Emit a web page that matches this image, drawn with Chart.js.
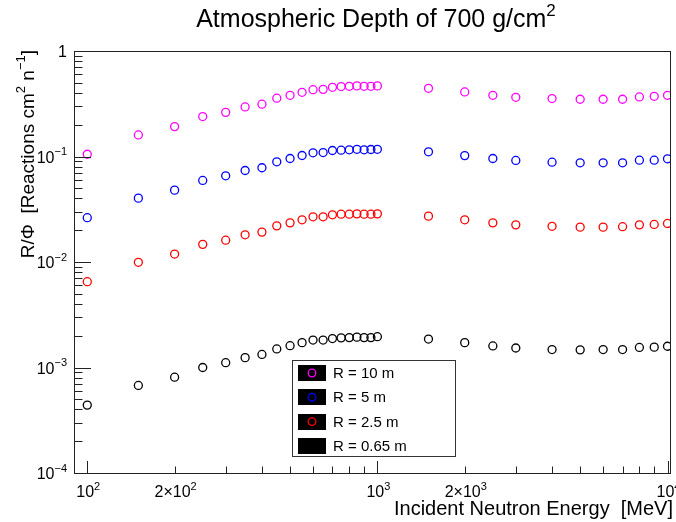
<!DOCTYPE html>
<html>
<head>
<meta charset="utf-8">
<script src="https://cdn.jsdelivr.net/npm/chart.js@4.4.1/dist/chart.umd.min.js"></script>
<style>
	html, body { margin: 0; padding: 0; background: #fff; }
	#wrap { width: 676px; height: 522px; }
</style>
</head>
<body>
<div id="wrap"><canvas id="canvas-chart-scatter-depth"></canvas></div>
<script>
var energia=[100,150,200,250,300,350,400,450,500,550,600,650,700,750,800,850,900,950,1000,1500,2000,2500,3000,4000,5000,6000,7000,8000,9000,10000];

var r10=[0.105,0.160,0.192,0.239,0.262,0.295,0.313,0.357,0.380,0.406,0.430,0.433,0.453,0.460,0.463,0.467,0.463,0.463,0.467,0.443,0.409,0.380,0.364,0.354,0.349,0.349,0.349,0.367,0.372,0.380];
var r5=[0.0263,0.0403,0.0480,0.0593,0.0656,0.0737,0.0782,0.0891,0.0957,0.1022,0.1084,0.109,0.114,0.1147,0.1157,0.117,0.1157,0.1165,0.117,0.1108,0.102,0.0957,0.0917,0.0883,0.0872,0.0872,0.0872,0.0923,0.0923,0.0951];
var r25=[0.00651,0.00993,0.0119,0.0147,0.0161,0.0181,0.0192,0.0220,0.0235,0.0251,0.0268,0.0268,0.0280,0.0284,0.0284,0.0286,0.0284,0.0284,0.0286,0.0272,0.0251,0.0235,0.0225,0.0218,0.0214,0.0214,0.0216,0.0225,0.0227,0.0232];
var r065=[0.000440,0.000676,0.000809,0.00100,0.00111,0.00124,0.00133,0.00150,0.00161,0.00172,0.00182,0.00182,0.00188,0.00191,0.00192,0.00194,0.00192,0.00192,0.00196,0.00186,0.00172,0.00160,0.00153,0.00148,0.00147,0.00148,0.00148,0.00155,0.00156,0.00159];

var etiquetas=['R = 10 m','R = 5 m','R = 2.5 m','R = 0.65 m'];
var colores=['#ff00ff','#0000ff','#ff0000','#000000'];

// ticks: base, exponent, multiplier text
var xTicks=[100,200,300,400,500,600,700,800,900,1000,2000,3000,4000,5000,6000,7000,8000,9000,10000];
var xLabelValues=[100,200,1000,2000,10000];
var xLabelPre=['','2\u00d7','','2\u00d7',''];
var xLabelExp=['2','2','3','3','4'];
var yTicks=[];
[-4,-3,-2,-1].forEach(function(e){ for(var m=1;m<10;m++) yTicks.push(m*Math.pow(10,e)); });
yTicks.push(1);
var yLabelValues=[1,0.1,0.01,0.001,0.0001];
var yLabelExp=[null,'\u22121','\u22122','\u22123','\u22124'];

var fuente="'Liberation Sans', Arial, Helvetica, sans-serif";

function pares(serie){
	return energia.map(function(e,i){ return {x:e, y:serie[i]}; });
}

// draws rich text segments [text, isSup]; returns width
function textoRico(ctx, segs, x, y, size, align){
	var supSize=Math.round(size*0.68);
	var w=0;
	segs.forEach(function(s){
		ctx.font=(s[1]?supSize:size)+'px '+fuente;
		w+=ctx.measureText(s[0]).width;
	});
	var cx=x;
	if(align==='center') cx=x-w/2;
	if(align==='right') cx=x-w;
	ctx.textAlign='left';
	ctx.textBaseline='alphabetic';
	segs.forEach(function(s){
		ctx.font=(s[1]?supSize:size)+'px '+fuente;
		ctx.fillText(s[0], cx, s[1]? y-size*0.45 : y);
		cx+=ctx.measureText(s[0]).width;
	});
	return w;
}

var marcoPlugin={
	id:'marcoRoot',
	afterDatasetsDraw:function(chart){
		var ctx=chart.ctx, a=chart.chartArea;
		var sx=chart.scales.x, sy=chart.scales.y;
		ctx.save();
		ctx.strokeStyle='#222';
		ctx.lineWidth=1;
		ctx.strokeRect(Math.round(a.left)+0.5, Math.round(a.top)+0.5, Math.round(a.right-a.left), Math.round(a.bottom-a.top));
		ctx.beginPath();
		sx.ticks.forEach(function(t){
			var px=Math.round(sx.getPixelForValue(t.value))+0.5;
			var mayor=Math.abs(Math.log10(t.value)%1)<1e-9;
			ctx.moveTo(px, a.bottom);
			ctx.lineTo(px, a.bottom-(mayor?12:6.5));
		});
		sy.ticks.forEach(function(t){
			var py=Math.round(sy.getPixelForValue(t.value))+0.5;
			var mayor=Math.abs(Math.log10(t.value)%1)<1e-9;
			ctx.moveTo(a.left, py);
			ctx.lineTo(a.left+(mayor?17:8.5), py);
		});
		ctx.stroke();

		ctx.fillStyle='#000';
		// x tick labels
		xLabelValues.forEach(function(v,i){
			var px=sx.getPixelForValue(v);
			textoRico(ctx, [[xLabelPre[i]+'10',false],[xLabelExp[i],true]], px+1, 497, 16, 'center');
		});
		// y tick labels
		yLabelValues.forEach(function(v,i){
			var py=sy.getPixelForValue(v);
			var segs=yLabelExp[i]?[['10',false],[yLabelExp[i],true]]:[['1',false]];
			textoRico(ctx, segs, a.left-7, py+6, 16, 'right');
		});

		// titles
		textoRico(ctx, [['Atmospheric Depth of 700 g/cm',false],['2',true]], 376, 27, 25, 'center');
		textoRico(ctx, [['Incident Neutron Energy  [MeV]',false]], 673, 515, 20, 'right');
		ctx.save();
		ctx.translate(34, a.top-1);
		ctx.rotate(-Math.PI/2);
		textoRico(ctx, [['R/\u03a6  [Reactions cm',false],['2',true],[' n',false],['\u22121',true],[']',false]], 0, 0, 19, 'right');
		ctx.restore();
		ctx.restore();
	},
	afterDraw:function(chart){
		var ctx=chart.ctx;
		var bx=292, by=360, bw=163, bh=96;
		ctx.save();
		ctx.fillStyle='#fff';
		ctx.fillRect(bx,by,bw,bh);
		ctx.strokeStyle='#333';
		ctx.lineWidth=1;
		ctx.strokeRect(bx+0.5,by+0.5,bw,bh);
		chart.data.datasets.forEach(function(ds,i){
			var cy=by+13+i*24.3;
			ctx.fillStyle='#000';
			ctx.fillRect(bx+6, Math.round(cy-8), 28, 16);
			ctx.strokeStyle=ds.borderColor;
			ctx.lineWidth=1.3;
			ctx.beginPath();
			ctx.arc(bx+20, cy, 3.8, 0, Math.PI*2);
			ctx.stroke();
			ctx.fillStyle='#000';
			ctx.font='15px '+fuente;
			ctx.textAlign='left';
			ctx.textBaseline='middle';
			ctx.fillText(ds.label, bx+41, cy+1);
		});
		ctx.restore();
	}
};

const canvasDepth=document.getElementById('canvas-chart-scatter-depth').getContext('2d');
var chartDepth;

function chartAtmosferica(){
	var series=[r10,r5,r25,r065];
	chartDepth=new Chart(canvasDepth,{
		type:'scatter',
		data:{
			datasets: series.map(function(s,i){
				return {
					label: etiquetas[i],
					data: pares(s),
					borderColor: colores[i],
					backgroundColor: 'rgba(0,0,0,0)',
					pointStyle: 'circle',
					pointRadius: 4,
					pointBorderWidth: 1.3,
					showLine: false
				};
			})
		},
		options:{
			responsive:true,
			maintainAspectRatio:false,
			animation:false,
			layout:{ autoPadding:false, padding:{ left:74, top:51, right:6, bottom:49 } },
			plugins:{ legend:{display:false}, tooltip:{enabled:false}, title:{display:false} },
			scales:{
				x:{
					type:'logarithmic', min:90, max:10200,
					afterBuildTicks:function(s){ s.ticks=xTicks.map(function(v){return {value:v};}); },
					ticks:{display:false}, grid:{display:false, drawTicks:false, tickLength:0}, border:{display:false}
				},
				y:{
					type:'logarithmic', min:0.0001, max:1,
					afterBuildTicks:function(s){ s.ticks=yTicks.map(function(v){return {value:v};}); },
					ticks:{display:false}, grid:{display:false, drawTicks:false, tickLength:0}, border:{display:false}
				}
			}
		},
		plugins:[marcoPlugin]
	});
}
chartAtmosferica();
</script>
</body>
</html>
